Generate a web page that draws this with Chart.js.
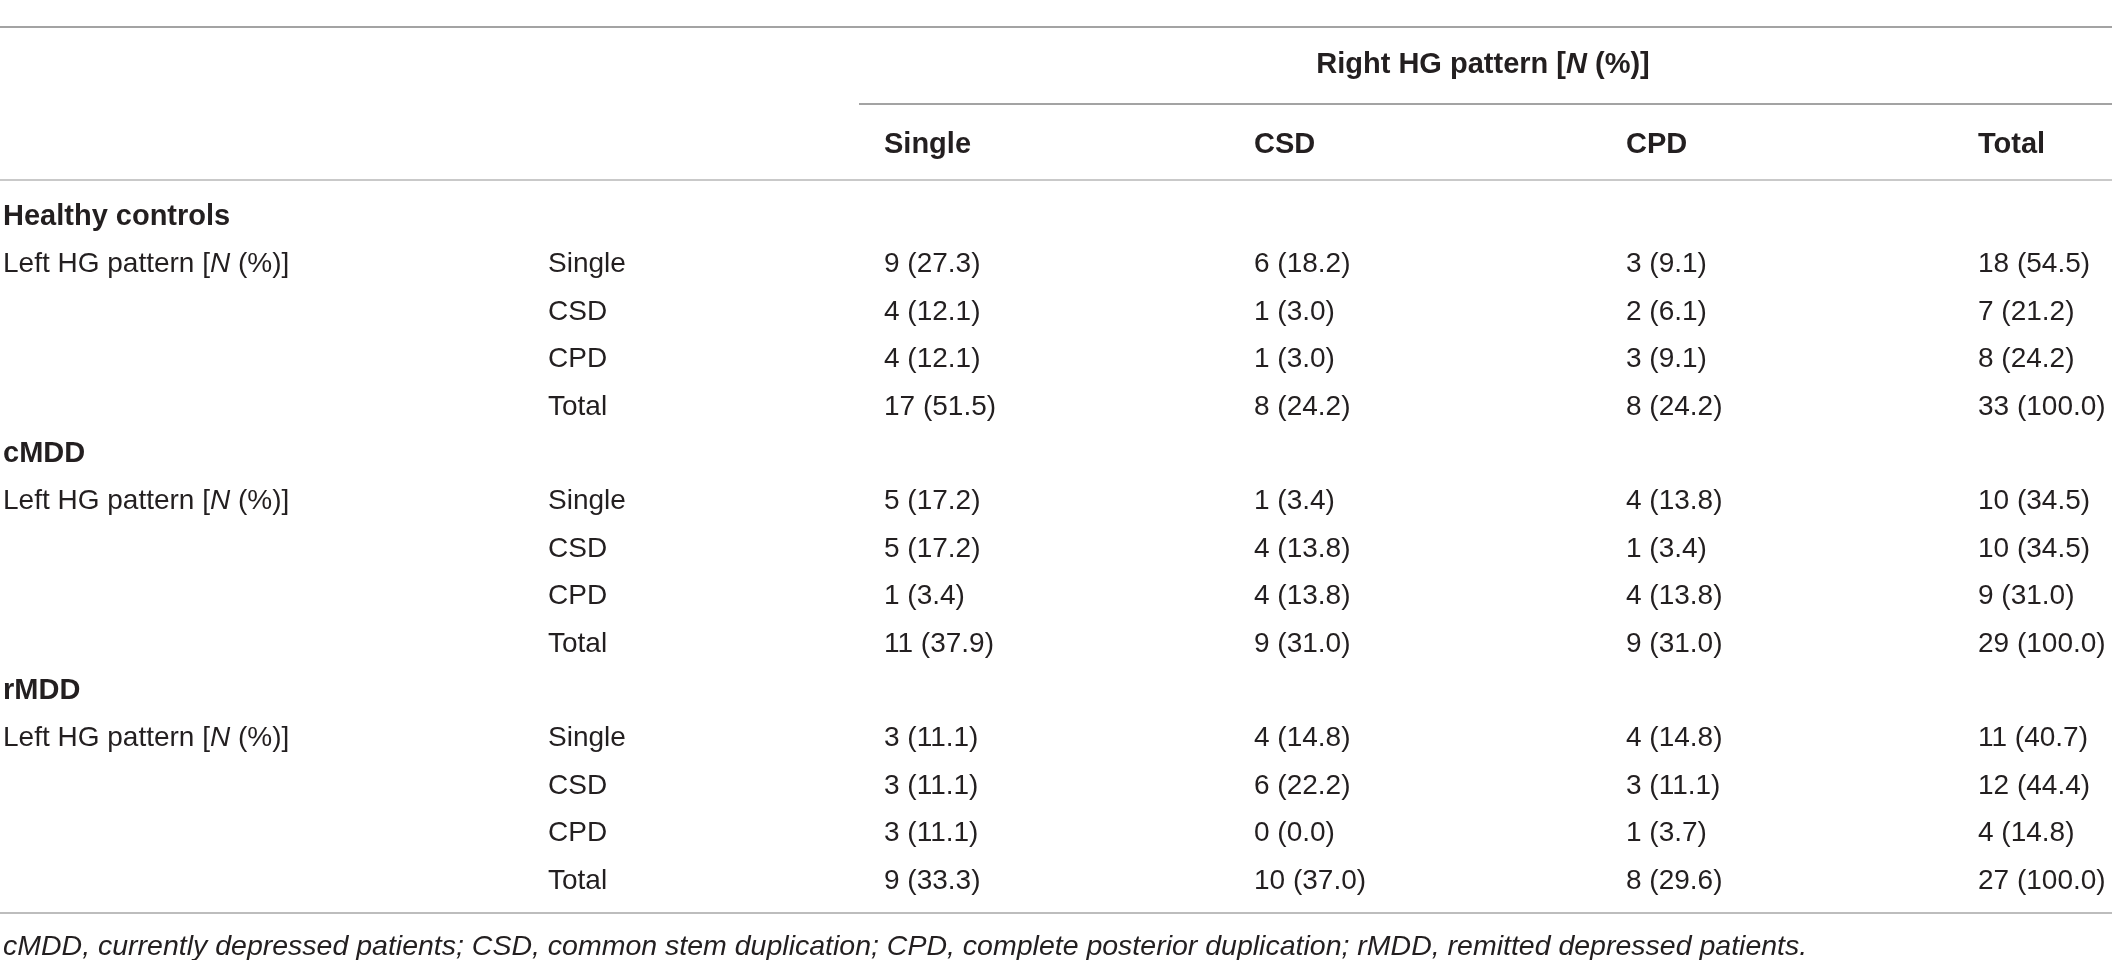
<!DOCTYPE html>
<html>
<head>
<meta charset="utf-8">
<script src="https://cdn.jsdelivr.net/npm/chart.js@4.4.1/dist/chart.umd.min.js"></script>
<style>
  html, body { margin: 0; padding: 0; background: #ffffff; }
  #wrap { width: 2112px; height: 960px; }
</style>
</head>
<body>
<div id="wrap"><canvas id="c" width="2112" height="960"></canvas></div>
<script>
// ---------------- DATA ----------------
const groups = ['Healthy controls', 'cMDD', 'rMDD'];
const leftPatterns = ['Single', 'CSD', 'CPD', 'Total'];
const rightPatterns = ['Single', 'CSD', 'CPD', 'Total'];
const rowTitle = [{ t: 'Left HG pattern [' }, { t: 'N', italic: true }, { t: ' (%)]' }];
const spanTitle = [{ t: 'Right HG pattern [' }, { t: 'N', italic: true }, { t: ' (%)]' }];

// counts [left pattern][right pattern]
const hcCounts   = [[9, 6, 3, 18], [4, 1, 2, 7], [4, 1, 3, 8], [17, 8, 8, 33]];
const hcPct      = [[27.3, 18.2, 9.1, 54.5], [12.1, 3.0, 6.1, 21.2], [12.1, 3.0, 9.1, 24.2], [51.5, 24.2, 24.2, 100.0]];
const cmddCounts = [[5, 1, 4, 10], [5, 4, 1, 10], [1, 4, 4, 9], [11, 9, 9, 29]];
const cmddPct    = [[17.2, 3.4, 13.8, 34.5], [17.2, 13.8, 3.4, 34.5], [3.4, 13.8, 13.8, 31.0], [37.9, 31.0, 31.0, 100.0]];
const rmddCounts = [[3, 4, 4, 11], [3, 6, 3, 12], [3, 0, 1, 4], [9, 10, 8, 27]];
const rmddPct    = [[11.1, 14.8, 14.8, 40.7], [11.1, 22.2, 11.1, 44.4], [11.1, 0.0, 3.7, 14.8], [33.3, 37.0, 29.6, 100.0]];

const footnote = 'cMDD, currently depressed patients; CSD, common stem duplication; CPD, complete posterior duplication; rMDD, remitted depressed patients.';

// ---------------- LAYOUT (positions / styles only) ----------------
const LAYOUT = {
  colLeft: [3, 548, 884, 1254, 1626, 1978],   // x-scale units
  spanCenter: 1483,
  rowsPerGroup: 5,
  yHeaderSpan: -3.207,   // y-scale units (row index units)
  yHeaderCols: -1.519,
  yFootnote: 15.40,
  rules: [
    { y: -3.966, from: 0, to: 2112, color: '#a3a3a3', width: 2 },
    { y: -2.342, from: 859, to: 2112, color: '#a3a3a3', width: 2 },
    { y: -0.738, from: 0, to: 2112, color: '#c9c9c9', width: 2 },
    { y: 14.726, from: 0, to: 2112, color: '#bdbdbd', width: 2 }
  ],
  yMin: -4.5359, yMax: 15.7173,
  font: 'Liberation Sans, Arial, Helvetica, sans-serif',
  size: 28,
  boldSize: 29,
  footSize: 28.5,
  color: '#231f20'
};

const groupCounts = [hcCounts, cmddCounts, rmddCounts];
const groupPct = [hcPct, cmddPct, rmddPct];

// ---------------- DATASETS built from the arrays ----------------
const cellPoints = [];
const subLabelPoints = [];
const groupPoints = [];
const rowTitlePoints = [];
groups.forEach((g, gi) => {
  const base = gi * LAYOUT.rowsPerGroup;
  groupPoints.push({ x: LAYOUT.colLeft[0], y: base, text: g });
  rowTitlePoints.push({ x: LAYOUT.colLeft[0], y: base + 1, parts: rowTitle });
  leftPatterns.forEach((lp, li) => {
    subLabelPoints.push({ x: LAYOUT.colLeft[1], y: base + 1 + li, text: lp });
    rightPatterns.forEach((rp, ri) => {
      const n = groupCounts[gi][li][ri];
      const p = groupPct[gi][li][ri];
      cellPoints.push({ x: LAYOUT.colLeft[2 + ri], y: base + 1 + li, text: n + ' (' + p.toFixed(1) + ')' });
    });
  });
});
const colHeaderPoints = rightPatterns.map((rp, ri) => ({ x: LAYOUT.colLeft[2 + ri], y: LAYOUT.yHeaderCols, text: rp }));
const spanPoints = [{ x: LAYOUT.spanCenter, y: LAYOUT.yHeaderSpan, parts: spanTitle, align: 'center' }];
const footPoints = [{ x: LAYOUT.colLeft[0], y: LAYOUT.yFootnote, text: footnote }];

function ds(label, data, weight, style, size) {
  return { label, data, weight, fstyle: style || 'normal', fsize: size || LAYOUT.size,
           pointRadius: 0, pointHoverRadius: 0, showLine: false };
}

// ---------------- PLUGINS ----------------
function fontStr(style, weight, size) {
  return style + ' ' + weight + ' ' + size + 'px ' + LAYOUT.font;
}

const tablePlugin = {
  id: 'tableText',
  afterDatasetsDraw(chart) {
    const ctx = chart.ctx;
    const xs = chart.scales.x, ys = chart.scales.y;
    ctx.save();
    // rules
    LAYOUT.rules.forEach(r => {
      const py = Math.round(ys.getPixelForValue(r.y));
      ctx.strokeStyle = r.color;
      ctx.lineWidth = r.width;
      ctx.beginPath();
      ctx.moveTo(xs.getPixelForValue(r.from), py);
      ctx.lineTo(xs.getPixelForValue(r.to), py);
      ctx.stroke();
    });
    // text
    ctx.fillStyle = LAYOUT.color;
    ctx.textBaseline = 'alphabetic';
    chart.data.datasets.forEach((d, di) => {
      const meta = chart.getDatasetMeta(di);
      const capHalf = d.fsize * 0.716 / 2;
      meta.data.forEach((el, i) => {
        const pt = d.data[i];
        const x = el.x, y = el.y + capHalf;
        const parts = pt.parts || [{ t: pt.text }];
        const fonts = parts.map(p => fontStr(p.italic ? 'italic' : d.fstyle, d.weight, d.fsize));
        const widths = parts.map((p, k) => { ctx.font = fonts[k]; return ctx.measureText(p.t).width; });
        const total = widths.reduce((a, b) => a + b, 0);
        let cx = pt.align === 'center' ? x - total / 2 : x;
        ctx.textAlign = 'left';
        parts.forEach((p, k) => { ctx.font = fonts[k]; ctx.fillText(p.t, cx, y); cx += widths[k]; });
      });
    });
    ctx.restore();
  }
};

// ---------------- CHART ----------------
new Chart(document.getElementById('c'), {
  type: 'scatter',
  data: {
    datasets: [
      ds('groups', groupPoints, 'bold', 'normal', LAYOUT.boldSize),
      ds('rowTitles', rowTitlePoints, 'normal'),
      ds('leftPatterns', subLabelPoints, 'normal'),
      ds('cells', cellPoints, 'normal'),
      ds('colHeaders', colHeaderPoints, 'bold', 'normal', LAYOUT.boldSize),
      ds('spanHeader', spanPoints, 'bold', 'normal', LAYOUT.boldSize),
      ds('footnote', footPoints, 'normal', 'italic', LAYOUT.footSize)
    ]
  },
  options: {
    responsive: false,
    animation: false,
    events: [],
    layout: { padding: 0, autoPadding: false },
    plugins: { legend: { display: false }, tooltip: { enabled: false } },
    scales: {
      x: { type: 'linear', display: false, min: 0, max: 2112 },
      y: { type: 'linear', display: false, reverse: true, min: LAYOUT.yMin, max: LAYOUT.yMax }
    }
  },
  plugins: [tablePlugin]
});
</script>
</body>
</html>
